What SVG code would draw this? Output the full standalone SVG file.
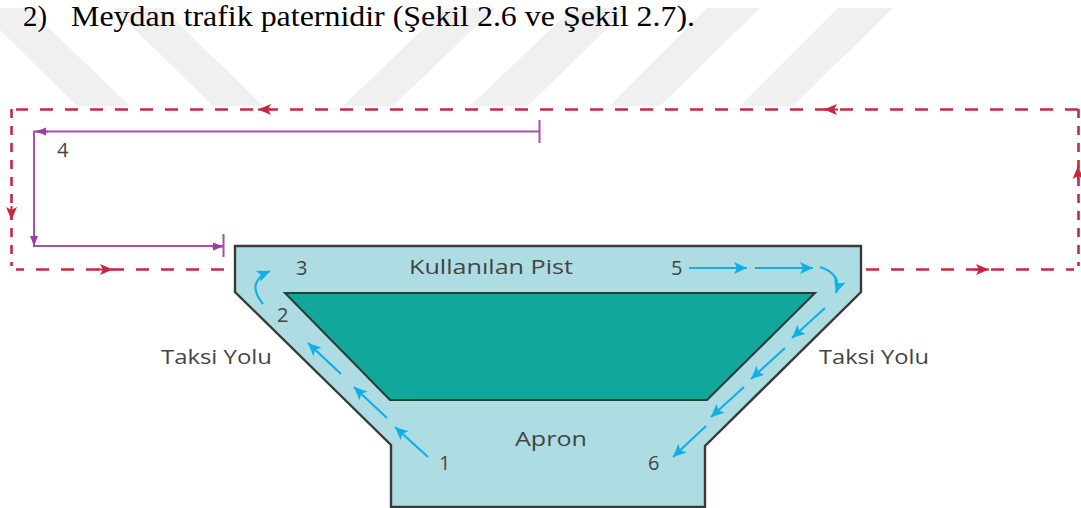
<svg xmlns="http://www.w3.org/2000/svg" width="1081" height="508" viewBox="0 0 1081 508">
<style>
.band{fill:#f0f0f0}
.lbl{font-family:"Open Sans","Noto Sans",sans-serif;font-size:20px;fill:#444444;font-weight:500}
.head{font-family:"Liberation Serif",serif;font-size:30px;fill:#000000}
.red{fill:none;stroke:#c8283f;stroke-width:2.6;stroke-dasharray:13 12}
.redv{fill:none;stroke:#c8283f;stroke-width:2.6;stroke-dasharray:9 8}
.redh{fill:none;stroke:#c8283f;stroke-width:2;marker-end:url(#r)}
.pur{fill:none;stroke:#a54fae;stroke-width:2}
.blue{fill:none;stroke:#12aeea;stroke-width:2.2;marker-end:url(#b)}
</style>
<defs>
<marker id="r" markerUnits="userSpaceOnUse" markerWidth="14" markerHeight="12" refX="13" refY="6" orient="auto"><path d="M0 0.5L13 6L0 11.5L3 6Z" fill="#c8283f"/></marker>
<marker id="b" markerUnits="userSpaceOnUse" markerWidth="14" markerHeight="12" refX="13" refY="6" orient="auto"><path d="M0 0L13 6L0 12L3 6Z" fill="#12aeea"/></marker>
<marker id="p" markerUnits="userSpaceOnUse" markerWidth="11" markerHeight="10" refX="10" refY="5" orient="auto"><path d="M0 1L10 5L0 9Z" fill="#9a3ba6"/></marker>
</defs>
<rect width="1081" height="508" fill="#ffffff"/>
<g id="watermark">
<polygon class="band" points="0,30 77,106 130,106 28,8 0,8"/>
<polygon class="band" points="113,8 163,8 263,106 213,106"/>
<polygon class="band" points="343,106 393,106 495,8 445,8"/>
<polygon class="band" points="470,106 528,106 628,8 573,8"/>
<polygon class="band" points="610,106 660,106 760,8 707,8"/>
<polygon class="band" points="740,106 793,106 893,8 838,8"/>
</g>
<text class="head" id="heading-number" x="23" y="26" textLength="24" lengthAdjust="spacingAndGlyphs">2)</text>
<text class="head" id="heading" x="71" y="26" textLength="624" lengthAdjust="spacingAndGlyphs">Meydan trafik paternidir (Şekil 2.6 ve Şekil 2.7).</text>
<g id="node-apron">
<polygon points="235,246 861,246 861,292 705,446 705,507 391,507 391,445 235,292" fill="#addde2" stroke="#3a3a3a" stroke-width="2.4"/>
<text class="lbl" x="515" y="446" textLength="72" lengthAdjust="spacingAndGlyphs">Apron</text>
</g>
<g id="node-field">
<polygon points="285,293 815,293 707,400 390,400" fill="#12a79b" stroke="#2b3a3a" stroke-width="2"/>
</g>
<g id="labels">
<text class="lbl" x="409" y="274" textLength="164" lengthAdjust="spacingAndGlyphs">Kullanılan Pist</text>
<text class="lbl" x="161" y="364" textLength="111" lengthAdjust="spacingAndGlyphs">Taksi Yolu</text>
<text class="lbl" x="819" y="364" textLength="110" lengthAdjust="spacingAndGlyphs">Taksi Yolu</text>
<text class="lbl" x="57" y="157">4</text>
<text class="lbl" x="296" y="275">3</text>
<text class="lbl" x="671" y="275">5</text>
<text class="lbl" x="277" y="322">2</text>
<text class="lbl" x="439" y="470">1</text>
<text class="lbl" x="648" y="470">6</text>
</g>
<g id="connectors">
<path class="red" d="M224 269.5H16"/>
<path class="red" d="M1078 109.5H16"/>
<path class="red" d="M866 269.5H1074"/>
<path class="redv" d="M11.5 109V266"/>
<path class="redv" d="M1078.5 109V266"/>
<path class="redh" d="M271 109.5H258"/>
<path class="redh" d="M838 109.5H824"/>
<path class="redh" d="M11.5 206V220"/>
<path class="redh" d="M98 269.5H113"/>
<path class="redh" d="M974 269.5H989"/>
<path class="redh" d="M1078 180V166"/>
<path class="pur" d="M539 131.5H34V246H223" />
<path class="pur" d="M48 131.5H36" marker-end="url(#p)"/>
<path class="pur" d="M34 234V246" marker-end="url(#p)"/>
<path class="pur" d="M212 246.5H223" marker-end="url(#p)"/>
<path class="pur" d="M539.5 120V143M223.5 234V257"/>
<path class="blue" d="M689 268H747"/>
<path class="blue" d="M755 268H813"/>
<path class="blue" d="M820 267Q842 274 836 293"/>
<path class="blue" d="M825 308L792 338"/>
<path class="blue" d="M785 348L751 379"/>
<path class="blue" d="M744 387L711 417"/>
<path class="blue" d="M706 426L673 457"/>
<path class="blue" d="M428 457L395 427"/>
<path class="blue" d="M387 418L354 387"/>
<path class="blue" d="M341 374L308 343"/>
<path class="blue" d="M263 304Q245 282 270 271"/>
</g>
</svg>
